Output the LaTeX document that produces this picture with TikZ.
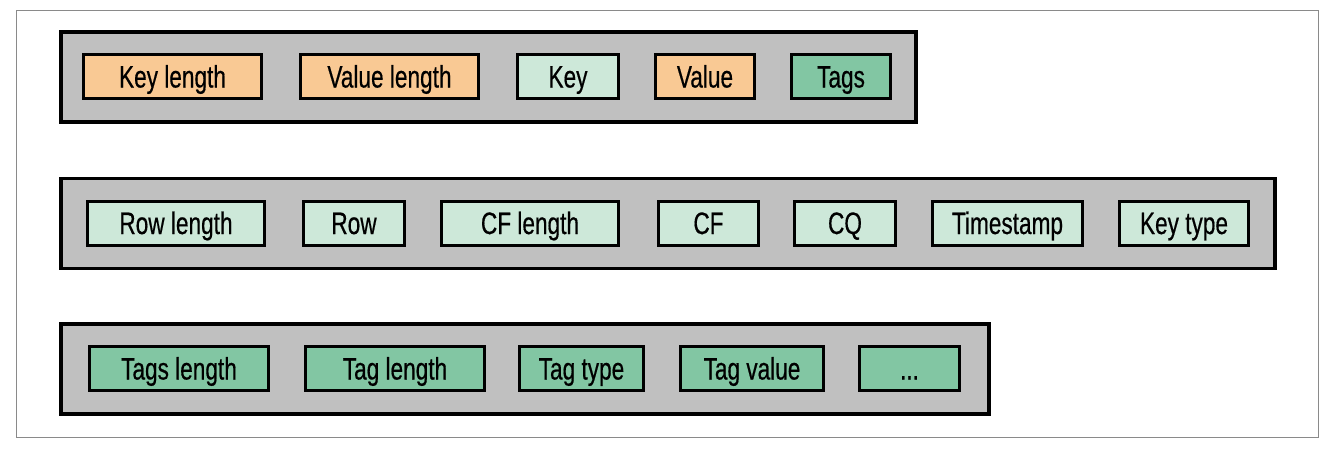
\documentclass[tikz,border=0pt]{standalone}
\usepackage{fontspec}
\setmainfont{Liberation Sans}
\newfontfamily\labelfont[FakeBold=0.6]{Liberation Sans}
\definecolor{orangeF}{HTML}{F9C994}
\definecolor{lightG}{HTML}{CDE8D9}
\definecolor{midG}{HTML}{82C6A3}
\definecolor{contG}{HTML}{C0C0C0}
\definecolor{frameG}{HTML}{8A8A8A}
\newcommand{\lbl}[1]{\scalebox{0.73}[1]{#1}}
\begin{document}
\begin{tikzpicture}[x=1pt,y=-1pt,
  container/.style={draw=black, line width=3.5pt, fill=contG, inner sep=0pt},
  fieldbox/.style={draw=black, line width=3pt, inner sep=0pt, minimum height=44pt,
    text height=22pt, text depth=0pt,
    font=\labelfont\fontsize{31}{33}\selectfont},
  og/.style={fieldbox, fill=orangeF},
  lg/.style={fieldbox, fill=lightG},
  mg/.style={fieldbox, fill=midG}]
\useasboundingbox (0,0) rectangle (1338,456);
\node[draw=frameG, line width=1.3pt, minimum width=1302pt, minimum height=427pt, inner sep=0pt] (frame) at (667.5,224) {};
% containers
\node[container, minimum width=855pt, minimum height=90pt] (c1) at (488.5,77) {};
\node[container, minimum width=1214pt, minimum height=90pt] (c2) at (668,223.5) {};
\node[container, minimum width=928pt, minimum height=90pt] (c3) at (525,369) {};
% row 1
\node[og, minimum width=178pt] (kl) at (172.5,76.5) {\lbl{Key length}};
\node[og, minimum width=178pt] (vl) at (389.5,76.5) {\lbl{Value length}};
\node[lg, minimum width=101pt] (key) at (568,76.5) {\lbl{Key}};
\node[og, minimum width=99pt] (val) at (705,76.5) {\lbl{Value}};
\node[mg, minimum width=99pt] (tags) at (841,76.5) {\lbl{Tags}};
% row 2
\node[lg, minimum width=177pt] (rl) at (176,223) {\lbl{Row length}};
\node[lg, minimum width=101pt] (row) at (354,223) {\lbl{Row}};
\node[lg, minimum width=177pt] (cfl) at (530,223) {\lbl{CF length}};
\node[lg, minimum width=100pt] (cf) at (708.5,223) {\lbl{CF}};
\node[lg, minimum width=101pt] (cq) at (845,223) {\lbl{CQ}};
\node[lg, minimum width=150pt] (ts) at (1007.5,223) {\lbl{Timestamp}};
\node[lg, minimum width=129pt] (kt) at (1184,223) {\lbl{Key type}};
% row 3
\node[mg, minimum width=179pt] (tl) at (179,368.5) {\lbl{Tags length}};
\node[mg, minimum width=179pt] (tgl) at (395,368.5) {\lbl{Tag length}};
\node[mg, minimum width=124pt] (tt) at (581.5,368.5) {\lbl{Tag type}};
\node[mg, minimum width=143pt] (tv) at (752,368.5) {\lbl{Tag value}};
\node[mg, minimum width=100pt] (dots) at (909.5,368.5) {\lbl{...}};
\end{tikzpicture}
\end{document}
